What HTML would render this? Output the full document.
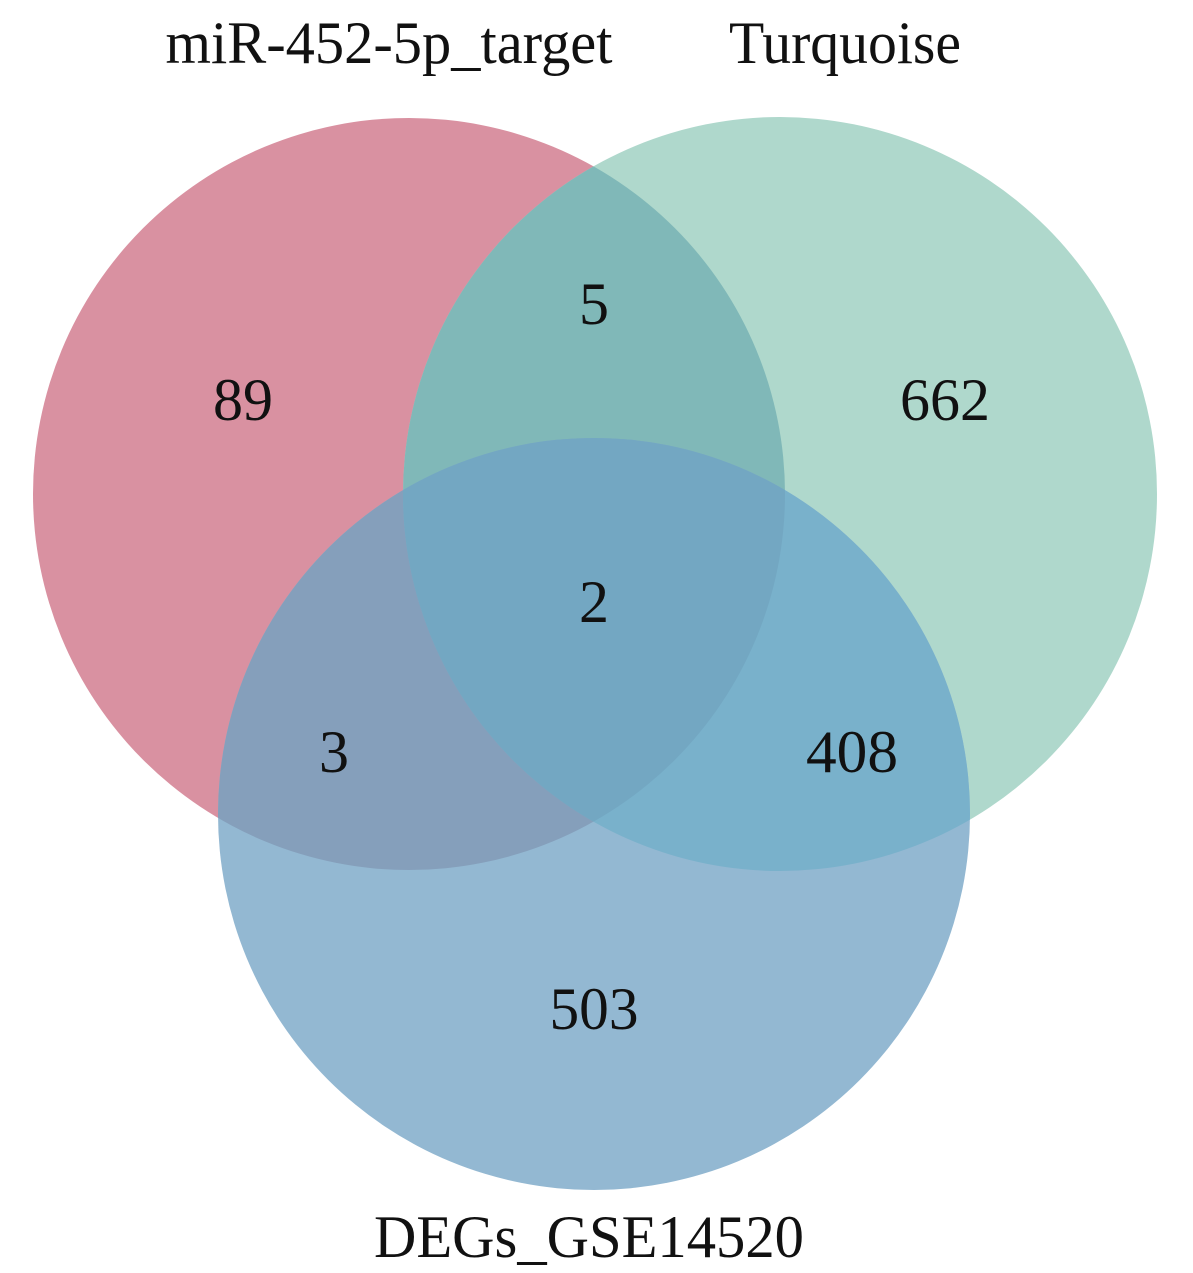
<!DOCTYPE html>
<html><head><style>body{margin:0;background:#fff}svg{display:block}</style></head>
<body>
<svg width="1193" height="1273" viewBox="0 0 1193 1273" xmlns="http://www.w3.org/2000/svg">
<defs>
<clipPath id="cr"><circle cx="409" cy="494" r="376"/></clipPath>
<clipPath id="cg"><circle cx="780" cy="494" r="377"/></clipPath>
<clipPath id="cb"><circle cx="594" cy="814" r="376"/></clipPath>
</defs>
<circle cx="409" cy="494" r="376" fill="#d991a1"/>
<circle cx="780" cy="494" r="377" fill="#afd8cc"/>
<circle cx="594" cy="814" r="376" fill="#93b8d2"/>
<g clip-path="url(#cr)"><circle cx="780" cy="494" r="377" fill="#80b8b8"/></g>
<g clip-path="url(#cr)"><circle cx="594" cy="814" r="376" fill="#859fbb"/></g>
<g clip-path="url(#cg)"><circle cx="594" cy="814" r="376" fill="#79b1cb"/></g>
<g clip-path="url(#cr)"><g clip-path="url(#cg)"><circle cx="594" cy="814" r="376" fill="#73a7c2"/></g></g>
<g font-family="Liberation Serif, serif" font-size="60" fill="#111" text-anchor="middle">
<text x="389" y="63" textLength="447" lengthAdjust="spacingAndGlyphs">miR-452-5p_target</text>
<text x="845" y="63" textLength="232" lengthAdjust="spacingAndGlyphs">Turquoise</text>
<text x="589" y="1257" textLength="430" lengthAdjust="spacingAndGlyphs">DEGs_GSE14520</text>
<text x="243" y="420">89</text>
<text x="594" y="324">5</text>
<text x="945" y="420" textLength="90" lengthAdjust="spacingAndGlyphs">662</text>
<text x="594" y="622">2</text>
<text x="334" y="772">3</text>
<text x="852" y="772" textLength="92" lengthAdjust="spacingAndGlyphs">408</text>
<text x="594" y="1029" textLength="89" lengthAdjust="spacingAndGlyphs">503</text>
</g>
</svg>
</body></html>
